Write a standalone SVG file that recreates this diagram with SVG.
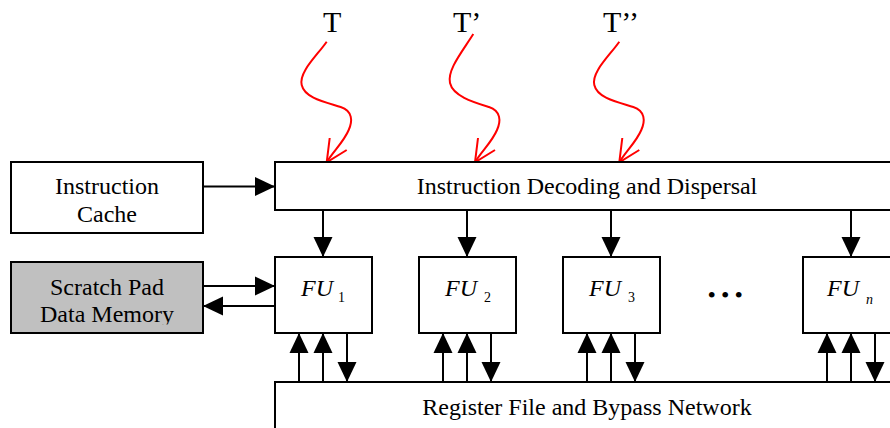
<svg xmlns="http://www.w3.org/2000/svg" width="890" height="428" viewBox="0 0 890 428">
<style>
.box{fill:#fff;stroke:#000;stroke-width:2}
.gray{fill:#c0c0c0;stroke:#000;stroke-width:2}
.lbl{font-family:"Liberation Serif","Times New Roman",serif;font-size:24px;fill:#000}
.fu{font-family:"Liberation Serif","Times New Roman",serif;font-size:24px;font-style:italic;fill:#000}
.sub{font-family:"Liberation Serif","Times New Roman",serif;font-size:14px;fill:#000}
.tl{font-family:"Liberation Serif","Times New Roman",serif;font-size:30px;fill:#000}
.con{fill:none;stroke:#000;stroke-width:2;marker-end:url(#ah)}
.red{fill:none;stroke:#f00;stroke-width:2}
</style>
<defs>
<marker id="ah" markerUnits="userSpaceOnUse" markerWidth="20" markerHeight="20" refX="20" refY="9.5" orient="auto" viewBox="0 0 20 19">
<path d="M0,0 L20,9.5 L0,19 z" fill="#000"/>
</marker>
<clipPath id="spclip"><rect x="0" y="0" width="890" height="324.5"/></clipPath>
</defs>

<g id="signals">
<text class="tl" x="323" y="32">T</text>
<text class="tl" x="453" y="32">T’</text>
<text class="tl" x="603" y="32">T’’</text>
<path class="red" d="M326.7,41.7 C316.7,56 298.7,72 301.7,85 C304.7,98 324.7,102 340.7,107 C352.7,111 352.7,121 348.7,130 C343.7,142 332.7,152 326.7,162.3"/>
<path class="red" d="M329.7,138 L326.7,162.3 L346.7,150"/>
<path class="red" d="M473.3,34 C462,52 447,70 450,83 C453,96 473,102 489,107 C501,111 501,121 497,130 C492,142 481,152 475,162.3"/>
<path class="red" d="M478,138 L475,162.3 L495,150"/>
<path class="red" d="M619.3,41.7 C609.3,56 591.3,72 594.3,85 C597.3,98 617.3,102 633.3,107 C645.3,111 645.3,121 641.3,130 C636.3,142 625.3,152 619.3,162.3"/>
<path class="red" d="M622.3,138 L619.3,162.3 L639.3,150"/>
</g>

<g id="icache">
<rect class="box" x="11" y="162" width="192" height="71"/>
<text class="lbl" x="107" y="194" text-anchor="middle">Instruction</text>
<text class="lbl" x="107" y="221.5" text-anchor="middle">Cache</text>
</g>

<g id="scratchpad">
<rect class="gray" x="11" y="262" width="192" height="71"/>
<g clip-path="url(#spclip)">
<text class="lbl" x="107" y="295" text-anchor="middle">Scratch Pad</text>
<text class="lbl" x="107" y="321.5" text-anchor="middle">Data Memory</text>
</g>
</g>

<g id="decode">
<rect class="box" x="275" y="162" width="640" height="48"/>
<text class="lbl" x="587" y="194" text-anchor="middle">Instruction Decoding and Dispersal</text>
</g>

<g id="fu1">
<rect class="box" x="275" y="257" width="97" height="76"/>
<text class="fu" x="301" y="296">FU</text>
<text class="sub" x="338" y="302">1</text>
</g>
<g id="fu2">
<rect class="box" x="419" y="257" width="97" height="76"/>
<text class="fu" x="445" y="296">FU</text>
<text class="sub" x="484" y="302">2</text>
</g>
<g id="fu3">
<rect class="box" x="563" y="257" width="97" height="76"/>
<text class="fu" x="589" y="296">FU</text>
<text class="sub" x="628" y="302">3</text>
</g>
<g id="ellipsis">
<text class="lbl" x="707.5" y="302.5" style="font-size:24px;letter-spacing:5.1px">•••</text>
</g>
<g id="fun">
<rect class="box" x="803" y="257" width="97" height="76"/>
<text class="fu" x="827" y="296">FU</text>
<text class="sub" x="866" y="304" font-style="italic">n</text>
</g>

<g id="regfile">
<rect class="box" x="275" y="382" width="640" height="60"/>
<text class="lbl" x="587" y="415" text-anchor="middle">Register File and Bypass Network</text>
</g>

<g id="connectors">
<path class="con" d="M203,186.5 H275"/>
<path class="con" d="M203,286 H275"/>
<path class="con" d="M275,306 H203"/>
<path class="con" d="M323,210 V257"/>
<path class="con" d="M467,210 V257"/>
<path class="con" d="M611,210 V257"/>
<path class="con" d="M851,210 V257"/>
<path class="con" d="M299,382 V333"/>
<path class="con" d="M323,382 V333"/>
<path class="con" d="M347,333 V382"/>
<path class="con" d="M443,382 V333"/>
<path class="con" d="M467,382 V333"/>
<path class="con" d="M491,333 V382"/>
<path class="con" d="M587,382 V333"/>
<path class="con" d="M611,382 V333"/>
<path class="con" d="M635,333 V382"/>
<path class="con" d="M827,382 V333"/>
<path class="con" d="M851,382 V333"/>
<path class="con" d="M875,333 V382"/>
</g>
</svg>
